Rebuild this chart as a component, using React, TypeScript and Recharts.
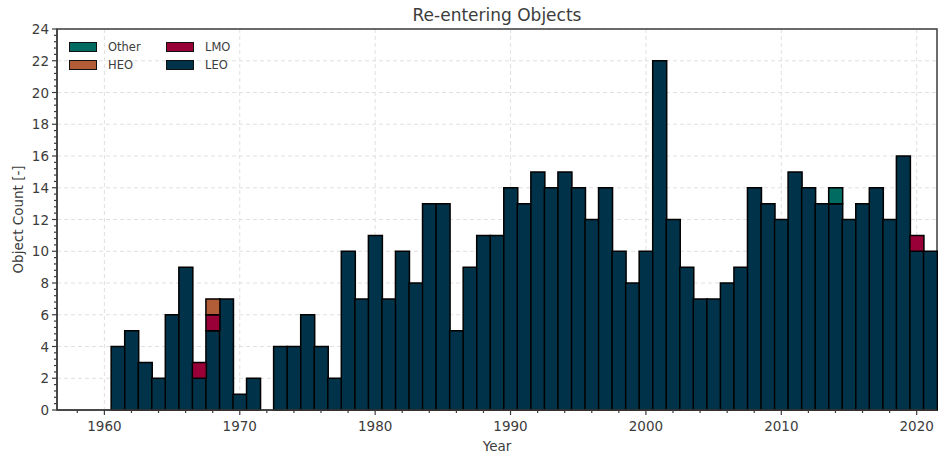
import React from 'react';
import { BarChart, Bar, XAxis, YAxis, CartesianGrid, ReferenceArea, Legend, Label } from 'recharts';

const years = [
  1957, 1958, 1959, 1960, 1961, 1962, 1963, 1964, 1965, 1966, 1967, 1968, 1969,
  1970, 1971, 1972, 1973, 1974, 1975, 1976, 1977, 1978, 1979,
  1980, 1981, 1982, 1983, 1984, 1985, 1986, 1987, 1988, 1989,
  1990, 1991, 1992, 1993, 1994, 1995, 1996, 1997, 1998, 1999,
  2000, 2001, 2002, 2003, 2004, 2005, 2006, 2007, 2008, 2009,
  2010, 2011, 2012, 2013, 2014, 2015, 2016, 2017, 2018, 2019,
  2020, 2021,
];

// LEO counts per year, 1957..2021
const leoCounts = [
  0, 0, 0, 0, 4, 5, 3, 2, 6, 9, 2, 5, 7,
  1, 2, 0, 4, 4, 6, 4, 2, 10, 7,
  11, 7, 10, 8, 13, 13, 5, 9, 11, 11,
  14, 13, 15, 14, 15, 14, 12, 14, 10, 8,
  10, 22, 12, 9, 7, 7, 8, 9, 14, 13,
  12, 15, 14, 13, 13, 12, 13, 14, 12, 16,
  10, 10,
];

// the few years with other regimes
const lmoYears = [1967, 1968, 2020];
const lmoCounts = [1, 1, 1];
const heoYears = [1968];
const heoCounts = [1];
const otherYears = [2014];
const otherCounts = [1];

const xMajor = [1960, 1970, 1980, 1990, 2000, 2010, 2020];
const xMinor = [1958, 1960, 1962, 1964, 1966, 1968, 1970, 1972, 1974, 1976, 1978,
  1980, 1982, 1984, 1986, 1988, 1990, 1992, 1994, 1996, 1998, 2000, 2002, 2004,
  2006, 2008, 2010, 2012, 2014, 2016, 2018, 2020];
const yMajor = [0, 2, 4, 6, 8, 10, 12, 14, 16, 18, 20, 22, 24];
const yMinor: number[] = [];
for (let i = 0; i <= 60; i++) yMinor.push(Math.round(i * 0.4 * 10) / 10);

const COLORS = {
  LEO: '#00334a',
  LMO: '#9a0038',
  HEO: '#b35c38',
  Other: '#006b60',
};

const FONT = '"DejaVu Sans", sans-serif';
const INK = '#3c3c3c';

const pick = (ys: number[], vs: number[], y: number) => {
  const i = ys.indexOf(y);
  return i < 0 ? 0 : vs[i];
};

const data = years.map((year, i) => ({
  year,
  LEO: leoCounts[i],
  LMO: pick(lmoYears, lmoCounts, year),
  HEO: pick(heoYears, heoCounts, year),
  Other: pick(otherYears, otherCounts, year),
}));

const XTick = ({ x, y, payload }: any) => {
  const v = payload.value;
  const major = xMajor.includes(v);
  return (
    <g>
      <line x1={x} x2={x} y1={y} y2={y + (major ? 5 : 3)} stroke={INK} strokeWidth={1.2} />
      {major && (
        <text x={x} y={y + 21} textAnchor="middle" fill={INK} fontSize={13.5} fontFamily={FONT}>
          {v}
        </text>
      )}
    </g>
  );
};

const YTick = ({ x, y, payload }: any) => {
  const v = payload.value;
  const major = yMajor.includes(v);
  return (
    <g>
      <line x1={x - (major ? 5 : 3)} x2={x} y1={y} y2={y} stroke={INK} strokeWidth={1.2} />
      {major && (
        <text x={x - 8} y={y + 5} textAnchor="end" fill={INK} fontSize={13.5} fontFamily={FONT}>
          {v}
        </text>
      )}
    </g>
  );
};

const legendItems = ['Other', 'HEO', 'LMO', 'LEO'] as const;

const LegendBox = () => (
  <div
    style={{
      display: 'grid',
      gridTemplateRows: '18px 18px',
      gridTemplateColumns: '97px auto',
      gridAutoFlow: 'column',
      fontFamily: FONT,
      fontSize: 11.5,
      color: INK,
    }}
  >
    {legendItems.map((k) => (
      <div key={k} style={{ display: 'flex', alignItems: 'center', height: 18 }}>
        <span
          style={{
            display: 'inline-block',
            width: 28,
            height: 10,
            boxSizing: 'border-box',
            border: '1px solid #111',
            background: COLORS[k],
            marginRight: 11,
          }}
        />
        <span>{k}</span>
      </div>
    ))}
  </div>
);

const YLabel = ({ viewBox }: any) => {
  const cx = viewBox.x + 23;
  const cy = viewBox.y + viewBox.height / 2;
  return (
    <text
      x={cx}
      y={cy}
      transform={`rotate(-90, ${cx}, ${cy})`}
      textAnchor="middle"
      fill={INK}
      fontSize={13.5}
      fontFamily={FONT}
    >
      Object Count [-]
    </text>
  );
};

export default function App() {
  return (
    <div style={{ position: 'absolute', left: 0, top: 0, width: 938, height: 459, background: '#fff' }}>
      <div
        style={{
          position: 'absolute',
          left: 57,
          width: 880,
          top: 5,
          lineHeight: '20px',
          textAlign: 'center',
          fontFamily: FONT,
          fontSize: 17,
          color: INK,
        }}
      >
        Re-entering Objects
      </div>
      <BarChart
        width={938}
        height={459}
        data={data}
        margin={{ top: 29, right: 1, bottom: 0, left: 0 }}
        barCategoryGap={0}
        barGap={0}
      >
        <CartesianGrid
          stroke="#e0e0e0"
          strokeDasharray="4 3"
          verticalValues={xMajor}
          horizontalValues={yMajor}
        />
        <XAxis
          dataKey="year"
          type="category"
          height={49}
          ticks={xMinor}
          interval={0}
          tickSize={0}
          tickMargin={0}
          tickLine={false}
          tick={<XTick />}
          axisLine={{ stroke: INK, strokeWidth: 1.5 }}
        >
          <Label
            value="Year"
            position="insideBottom"
            offset={8}
            fill={INK}
            fontSize={13.5}
            fontFamily={FONT}
          />
        </XAxis>
        <YAxis
          type="number"
          domain={[0, 24]}
          width={57}
          ticks={yMinor}
          interval={0}
          tickSize={0}
          tickMargin={0}
          tickLine={false}
          tick={<YTick />}
          axisLine={{ stroke: INK, strokeWidth: 1.5 }}
          label={<YLabel />}
        />
        <Legend
          layout="vertical"
          align="center"
          verticalAlign="middle"
          content={<LegendBox />}
          wrapperStyle={{ position: 'absolute', top: 37.7, left: 69, width: 'auto', height: 'auto' }}
        />
        <Bar dataKey="LEO" stackId="a" fill={COLORS.LEO} stroke="#000" strokeWidth={1.5} isAnimationActive={false} />
        <Bar dataKey="LMO" stackId="a" fill={COLORS.LMO} stroke="#000" strokeWidth={1.5} isAnimationActive={false} />
        <Bar dataKey="HEO" stackId="a" fill={COLORS.HEO} stroke="#000" strokeWidth={1.5} isAnimationActive={false} />
        <Bar dataKey="Other" stackId="a" fill={COLORS.Other} stroke="#000" strokeWidth={1.5} isAnimationActive={false} />
        <ReferenceArea y1={0} y2={24} fill="none" stroke={INK} strokeWidth={1.5} ifOverflow="visible" />
      </BarChart>
    </div>
  );
}
